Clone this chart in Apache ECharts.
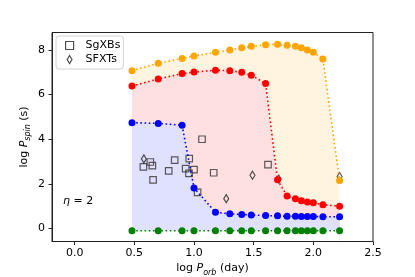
<!DOCTYPE html>
<html><head><meta charset="utf-8">
<script src="https://cdn.jsdelivr.net/npm/echarts@6/dist/echarts.min.js"></script>
<style>html,body{margin:0;padding:0;background:#fff}#c{width:415px;height:277px}</style>
</head><body><div id="c"></div>
<script>
// Orbital period grid (log P_orb, day)
const logPorb = [0.48, 0.70, 0.90, 1.00, 1.18, 1.30, 1.40, 1.48, 1.60, 1.70, 1.78, 1.85, 1.90, 1.95, 2.00, 2.08, 2.22];
// log P_spin curves
const greenY  = [-0.10, -0.10, -0.10, -0.10, -0.10, -0.10, -0.10, -0.10, -0.10, -0.10, -0.10, -0.10, -0.10, -0.10, -0.10, -0.10, -0.10];
const blueY   = [4.74, 4.71, 4.63, 1.82, 0.73, 0.66, 0.63, 0.61, 0.58, 0.57, 0.55, 0.55, 0.54, 0.54, 0.54, 0.53, 0.53];
const redY    = [6.38, 6.70, 6.94, 7.01, 7.09, 7.07, 7.00, 6.87, 6.50, 2.18, 1.46, 1.33, 1.25, 1.19, 1.15, 1.07, 1.00];
const orangeY = [7.07, 7.40, 7.62, 7.73, 7.89, 8.00, 8.10, 8.16, 8.23, 8.25, 8.21, 8.16, 8.10, 8.00, 7.89, 7.59, 2.15];
// Observed systems
const sgxbX = [0.576, 0.634, 0.651, 0.657, 0.788, 0.838, 0.93, 0.96, 0.958, 1.00, 1.03, 1.067, 1.165, 1.62];
const sgxbY = [2.76, 2.98, 2.82, 2.18, 2.58, 3.06, 2.68, 3.13, 2.47, 2.64, 1.62, 4.00, 2.50, 2.86];
const sfxtX = [0.58, 1.27, 1.49, 1.71, 2.22];
const sfxtY = [3.12, 1.34, 2.39, 2.22, 2.33];
// Tick labels
const xTicks = [0.0, 0.5, 1.0, 1.5, 2.0, 2.5];
const yTicks = [0, 2, 4, 6, 8];

const chart = echarts.init(document.getElementById('c'), null, {renderer: 'canvas'});
const FONT = 'DejaVu Sans';
const pair = (xs, ys) => xs.map((x, i) => [x, ys[i]]);

// Layered opaque fills: each fills from its curve down to the axis bottom;
// later ones cover earlier ones, the last (white) clears below the green curve.
function areaSeries(vals, color, z) {
  return {
    type: 'line', data: pair(logPorb, vals),
    showSymbol: false, symbol: 'none', silent: true, z: z,
    lineStyle: {width: 0, opacity: 0},
    areaStyle: {color: color, opacity: 1, origin: 'start'}
  };
}
function lineSeries(vals, color) {
  return {
    type: 'line', data: pair(logPorb, vals), z: 4,
    symbol: 'circle', symbolSize: 7, showSymbol: true,
    itemStyle: {color: color},
    lineStyle: {color: color, width: 1.6, type: [1.6, 2.6]}
  };
}
const rich = {
  n: {fontFamily: FONT, fontSize: 11, lineHeight: 16, color: '#000'},
  i: {fontFamily: FONT, fontSize: 11, lineHeight: 16, fontStyle: 'italic', color: '#000'},
  s: {fontFamily: FONT, fontSize: 8, lineHeight: 9, fontStyle: 'italic', verticalAlign: 'bottom', color: '#000'}
};

const option = {
  animation: false,
  backgroundColor: '#fff',
  grid: {left: 52, right: 42, top: 32.5, bottom: 35.5, show: true, z: 10, borderColor: '#222', borderWidth: 1, outerBoundsMode: 'none'},
  xAxis: {
    type: 'value', min: -0.19, max: 2.5, z: 10,
    name: '{n|log }{i|P}{s|orb}{n| (day)}', nameLocation: 'middle', nameGap: 19, nameMoveOverlap: false,
    nameTextStyle: {fontFamily: FONT, color: '#000', rich: rich},
    axisLine: {show: true, onZero: false, lineStyle: {color: '#222', width: 1}},
    axisTick: {show: true, inside: false, length: 3.5, lineStyle: {color: '#222'}, customValues: xTicks},
    axisLabel: {customValues: xTicks, margin: 6, fontFamily: FONT, fontSize: 11, color: '#000', formatter: v => v.toFixed(1)},
    splitLine: {show: false}
  },
  yAxis: {
    type: 'value', min: -0.58, max: 8.78, z: 10,
    name: '{n|log }{i|P}{s|spin}{n| (s)}', nameLocation: 'middle', nameGap: 20, nameRotate: 90, nameMoveOverlap: false,
    nameTextStyle: {fontFamily: FONT, color: '#000', rich: rich},
    axisLine: {show: true, onZero: false, lineStyle: {color: '#222', width: 1}},
    axisTick: {show: true, inside: false, length: 3.5, lineStyle: {color: '#222'}, customValues: yTicks},
    axisLabel: {customValues: yTicks, margin: 7, fontFamily: FONT, fontSize: 11, color: '#000'},
    splitLine: {show: false}
  },
  legend: {
    orient: 'vertical', left: 56, top: 36, padding: [4, 3, 4, 9], itemGap: 3, z: 12,
    itemWidth: 14, itemHeight: 8,
    backgroundColor: '#fff', borderColor: '#d4d4d4', borderWidth: 1, borderRadius: 3,
    textStyle: {fontFamily: FONT, fontSize: 11, color: '#000', padding: [0, 0, 0, 4]},
    data: [
      {name: 'SgXBs', icon: 'path://M0,0H10V10H0Z'},
      {name: 'SFXTs', icon: 'path://M3,0L6,5L3,10L0,5Z'}
    ],
    itemStyle: {color: 'rgba(0,0,0,0)', borderColor: '#222', borderWidth: 1.2}
  },
  graphic: [{
    type: 'text', left: 63, top: 196, silent: true, z: 12,
    style: {text: '{i|η} = 2', fontFamily: FONT, fontSize: 11, fill: '#000',
      rich: {i: {fontFamily: FONT, fontSize: 11, fontStyle: 'italic', fill: '#000'}}}
  }],
  series: [
    areaSeries(orangeY, '#fff4e0', 1),
    areaSeries(redY, '#ffe0e0', 1),
    areaSeries(blueY, '#e0e0ff', 1),
    areaSeries(greenY, '#ffffff', 1),
    {
      name: 'SgXBs', type: 'scatter', data: pair(sgxbX, sgxbY), z: 3,
      symbol: 'rect', symbolSize: 6.5,
      itemStyle: {color: 'rgba(0,0,0,0)', borderColor: '#333', borderWidth: 1.2}
    },
    {
      name: 'SFXTs', type: 'scatter', data: pair(sfxtX, sfxtY), z: 3,
      symbol: 'diamond', symbolSize: [5, 8],
      itemStyle: {color: 'rgba(0,0,0,0)', borderColor: '#222', borderWidth: 1.2}
    },
    lineSeries(greenY, '#008000'),
    lineSeries(blueY, '#0000ff'),
    lineSeries(redY, '#ff0000'),
    lineSeries(orangeY, '#ffa500')
  ]
};
chart.setOption(option);
</script></body></html>
